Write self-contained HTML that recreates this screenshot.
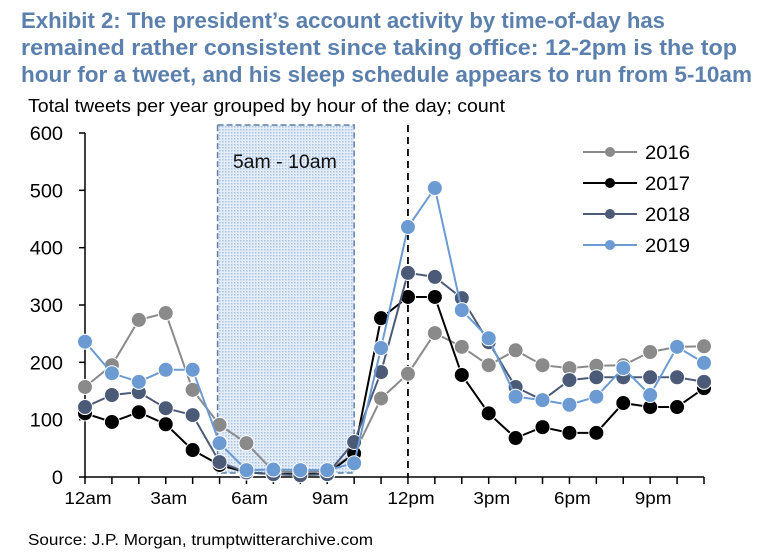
<!DOCTYPE html>
<html><head><meta charset="utf-8"><style>
html,body{margin:0;padding:0;background:#fff;}
svg{display:block;font-family:"Liberation Sans",Arial,sans-serif;}
</style></head><body>
<svg id="chart" width="761" height="560" viewBox="0 0 761 560" xmlns="http://www.w3.org/2000/svg">
<defs>
<pattern id="dots" width="3" height="3" patternUnits="userSpaceOnUse"><rect width="3" height="3" fill="#e4edf8"/><rect width="1.5" height="1.5" fill="#a9c3e4"/></pattern>
</defs>
<text x="21" y="28" font-size="22" font-weight="bold" fill="#5b80ad" textLength="644" lengthAdjust="spacingAndGlyphs">Exhibit 2: The president’s account activity by time-of-day has</text>
<text x="21" y="55" font-size="22" font-weight="bold" fill="#5b80ad" textLength="716" lengthAdjust="spacingAndGlyphs">remained rather consistent since taking office: 12-2pm is the top</text>
<text x="21" y="82" font-size="22" font-weight="bold" fill="#5b80ad" textLength="731" lengthAdjust="spacingAndGlyphs">hour for a tweet, and his sleep schedule appears to run from 5-10am</text>
<text x="28" y="112" font-size="18" fill="#000" textLength="477" lengthAdjust="spacingAndGlyphs">Total tweets per year grouped by hour of the day; count</text>
<text x="28" y="545" font-size="16" fill="#000" textLength="345" lengthAdjust="spacingAndGlyphs">Source: J.P. Morgan, trumptwitterarchive.com</text>
<g id="plot"></g>
</svg>
<script>
const hours = [0,1,2,3,4,5,6,7,8,9,10,11,12,13,14,15,16,17,18,19,20,21,22,23];
const series2016 = [157,195,274,286,152,91,59,10,8,10,40,137,180,251,227,195,221,195,190,194,195,218,227,228];
const series2017 = [111,96,113,92,47,21,8,5,5,5,41,277,314,314,178,111,68,87,77,77,129,122,122,155];
const series2018 = [122,143,148,120,108,26,8,5,3,5,61,183,356,349,312,235,157,134,169,174,174,174,174,166];
const series2019 = [236,181,166,187,187,59,12,13,12,12,24,225,436,504,291,242,140,134,126,140,190,143,227,199];
const yTicks = [0,100,200,300,400,500,600];
const xTickLabels = ["12am","3am","6am","9am","12pm","3pm","6pm","9pm"];
const xTickHours = [0,3,6,9,12,15,18,21];
const seriesNames = ["2016","2017","2018","2019"];
const shadeRange = [5,10];
const markerLine = [12];

const X0=85, X1=704, Y0=477, Y1=133;
const xS = h => X0 + h*(X1-X0)/23;
const yS = v => Y0 - v*(Y0-Y1)/600;
const NS="http://www.w3.org/2000/svg";
const g=document.getElementById('plot');
function mk(tag,attrs,parent){const e=document.createElementNS(NS,tag);for(const k in attrs)e.setAttribute(k,attrs[k]);(parent||g).appendChild(e);return e;}

const sh=mk('rect',{x:xS(shadeRange[0])-2,y:Y1-8,width:xS(shadeRange[1])-xS(shadeRange[0])+2,height:Y0-Y1+4,fill:'url(#dots)',stroke:'#5d7fa6','stroke-width':1.5,'stroke-dasharray':'6,3'});


const shl=mk('text',{x:(xS(shadeRange[0])+xS(shadeRange[1]))/2-2,y:168,'font-size':19,'text-anchor':'middle',fill:'#111',textLength:104,lengthAdjust:'spacingAndGlyphs'});
shl.textContent='5am - 10am';



const ya=mk('line',{x1:X0,y1:Y1,x2:X0,y2:Y0,stroke:'#000','stroke-width':1.5});


const xa=mk('line',{x1:X0,y1:Y0,x2:X1,y2:Y0,stroke:'#000','stroke-width':1.5});


yTicks.forEach(v=>{
  mk('line',{x1:X0-6,y1:yS(v),x2:X0,y2:yS(v),stroke:'#000','stroke-width':1.5});
  const t=mk('text',{x:63,y:yS(v)+7,'font-size':19,'text-anchor':'end',fill:'#000',transform:'translate(63,0) scale(1.05,1) translate(-63,0)'});
  t.textContent=v;
  
  
});
hours.forEach(h=>{mk('line',{x1:xS(h),y1:Y0,x2:xS(h),y2:Y0+7,stroke:'#000','stroke-width':1.5});});
xTickLabels.forEach((l,i)=>{
  const cx=xS(xTickHours[i])+3;
  const t=mk('text',{x:cx,y:Y0+27,'font-size':18,'text-anchor':'middle',fill:'#000',transform:'translate('+cx+',0) scale(1.05,1) translate('+(-cx)+',0)'});
  t.textContent=l;
  
  
});
const nl=mk('line',{x1:xS(markerLine[0]),y1:Y1-8,x2:xS(markerLine[0]),y2:Y0,stroke:'#000','stroke-width':1.8,'stroke-dasharray':'7,5'});



const allSeries=[series2016,series2017,series2018,series2019];
const colors=['#8a8a8a','#000000','#4b5b77','#6b9bd2'];
[0,1,2,3].forEach(si=>{
  const data=allSeries[si];
  const sg=mk('g',{});
  
  
  const pts=data.map((v,i)=>xS(hours[i])+','+yS(v)).join(' ');
  const pl=mk('polyline',{points:pts,fill:'none',stroke:colors[si],'stroke-width':2},sg);
  
  
  data.forEach((v,i)=>{
    const c=mk('circle',{cx:xS(hours[i]),cy:yS(v),r:7.5,fill:colors[si],stroke:'#fff','stroke-width':1},sg);
    
    
  });
});

const lg=mk('g',{});


seriesNames.forEach((n,i)=>{
  const y=152+i*31;
  const e=mk('g',{},lg);
  
  
  mk('line',{x1:583,y1:y,x2:637,y2:y,stroke:colors[i],'stroke-width':2},e);
  mk('circle',{cx:610,cy:y,r:5,fill:colors[i]},e);
  const t=mk('text',{x:645,y:y+7,'font-size':19,fill:'#000',textLength:45,lengthAdjust:'spacingAndGlyphs'},e);
  t.textContent=n;
});
</script>
</body></html>
